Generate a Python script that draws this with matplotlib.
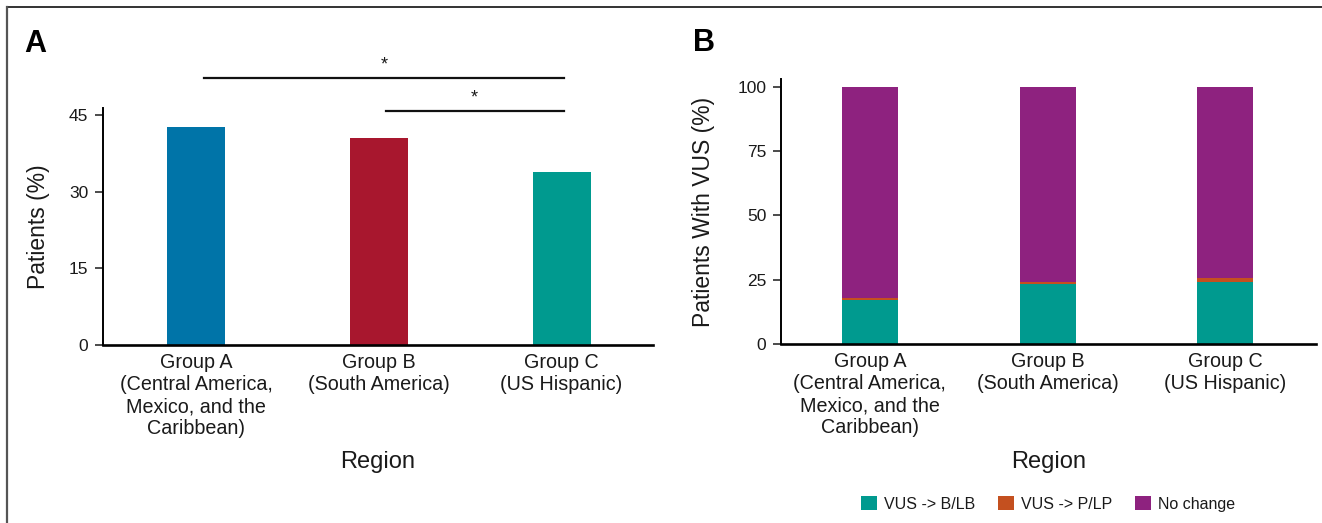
import matplotlib
matplotlib.use("Agg")
import matplotlib.pyplot as plt
from matplotlib.lines import Line2D
import numpy as np

plt.rcParams['font.family'] = ['Liberation Sans', 'DejaVu Sans']

# categories shared by both panels
groups = ["Group A\n(Central America,\nMexico, and the\nCaribbean)",
          "Group B\n(South America)",
          "Group C\n(US Hispanic)"]

# panel A: patients with a VUS (%)
patients_pct = [42.6, 40.5, 33.8]
bar_colors_a = ["#0074A8", "#A8172E", "#009A8F"]
yticks_a = [0, 15, 30, 45]

# panel B: VUS reclassification (%)
vus_to_blb = [17.1, 23.5, 24.0]
vus_to_plp = [0.8, 0.8, 1.8]
no_change = [82.1, 75.7, 74.2]
series_names = ["VUS -> B/LB", "VUS -> P/LP", "No change"]
series_colors = ["#009A8F", "#C4501F", "#8E227F"]
yticks_b = [0, 25, 50, 75, 100]

text_col = "#1a1a1a"

fig = plt.figure(figsize=(13.22, 5.23), dpi=100)
ax1 = fig.add_axes([0.0779, 0.3403, 0.4160, 0.4532])
ax2 = fig.add_axes([0.5908, 0.3423, 0.4047, 0.5067])

x = np.arange(len(groups))


def style_axis(ax):
    for s in ("top", "right"):
        ax.spines[s].set_visible(False)
    ax.spines["left"].set_linewidth(1.4)
    ax.spines["bottom"].set_linewidth(1.9)
    ax.tick_params(axis="y", length=5.5, width=1.1, pad=5, labelsize=12.5,
                   colors=text_col)
    ax.tick_params(axis="x", length=0, pad=6, labelsize=14.2, colors=text_col)
    ax.set_xticks(x)
    ax.set_xticklabels(groups, linespacing=1.2)


# ---- panel A
ax1.bar(x, patients_pct, width=0.317, color=bar_colors_a)
ax1.set_xlim(-0.51, 2.5)
ax1.set_ylim(0, 46.4)
ax1.set_yticks(yticks_a)
style_axis(ax1)
ax1.set_ylabel("Patients (%)", fontsize=16.5, color=text_col, va="center")
ax1.yaxis.set_label_coords(-0.118, 0.5)
ax1.set_xlabel("Region", fontsize=17, color=text_col)
ax1.xaxis.set_label_coords(0.5, -0.494)
ax1.xaxis.label.set_va("center")

# significance brackets (A vs C, B vs C)
for x0, x1, yl in [(0.044, 2.011, 52.2), (1.038, 2.011, 45.8)]:
    ax1.plot([x0, x1], [yl, yl], color="#111111", lw=1.6, clip_on=False)
    ax1.text((x0 + x1) / 2, yl + 0.9, "*", ha="center", va="bottom",
             fontsize=13, color=text_col, clip_on=False)

# ---- panel B
bottom = np.zeros(len(groups))
for vals, name, col in zip([vus_to_blb, vus_to_plp, no_change],
                           series_names, series_colors):
    ax2.bar(x, vals, width=0.315, bottom=bottom, color=col, label=name)
    bottom += np.array(vals)
ax2.set_xlim(-0.5, 2.51)
ax2.set_ylim(0, 103.1)
ax2.set_yticks(yticks_b)
style_axis(ax2)
ax2.set_ylabel("Patients With VUS (%)", fontsize=16.5, color=text_col,
               va="center")
ax2.yaxis.set_label_coords(-0.144, 0.5)
ax2.set_xlabel("Region", fontsize=17, color=text_col)
ax2.xaxis.set_label_coords(0.5, -0.445)
ax2.xaxis.label.set_va("center")

ax2.legend(loc="center", bbox_to_anchor=(1048 / 1322, 1 - 504 / 523),
           bbox_transform=fig.transFigure, ncol=3, frameon=False,
           fontsize=11.5, handlelength=1.0, handleheight=1.0,
           handletextpad=0.45, columnspacing=1.4, labelcolor=text_col)

# panel letters
fig.text(24 / 1322, 1 - 52 / 523, "A", fontsize=22, fontweight="bold",
         va="baseline", color="#000000")
fig.text(693 / 1322, 1 - 51 / 523, "B", fontsize=22, fontweight="bold",
         va="baseline", color="#000000")

# outer frame (top and left edges)
fig.add_artist(Line2D([7 / 1322, 1], [1 - 7 / 523, 1 - 7 / 523],
                      transform=fig.transFigure, color="#333333", lw=1.4))
fig.add_artist(Line2D([7 / 1322, 7 / 1322], [0, 1 - 7 / 523],
                      transform=fig.transFigure, color="#555555", lw=1.6))

fig.savefig("out.png", dpi=100)
